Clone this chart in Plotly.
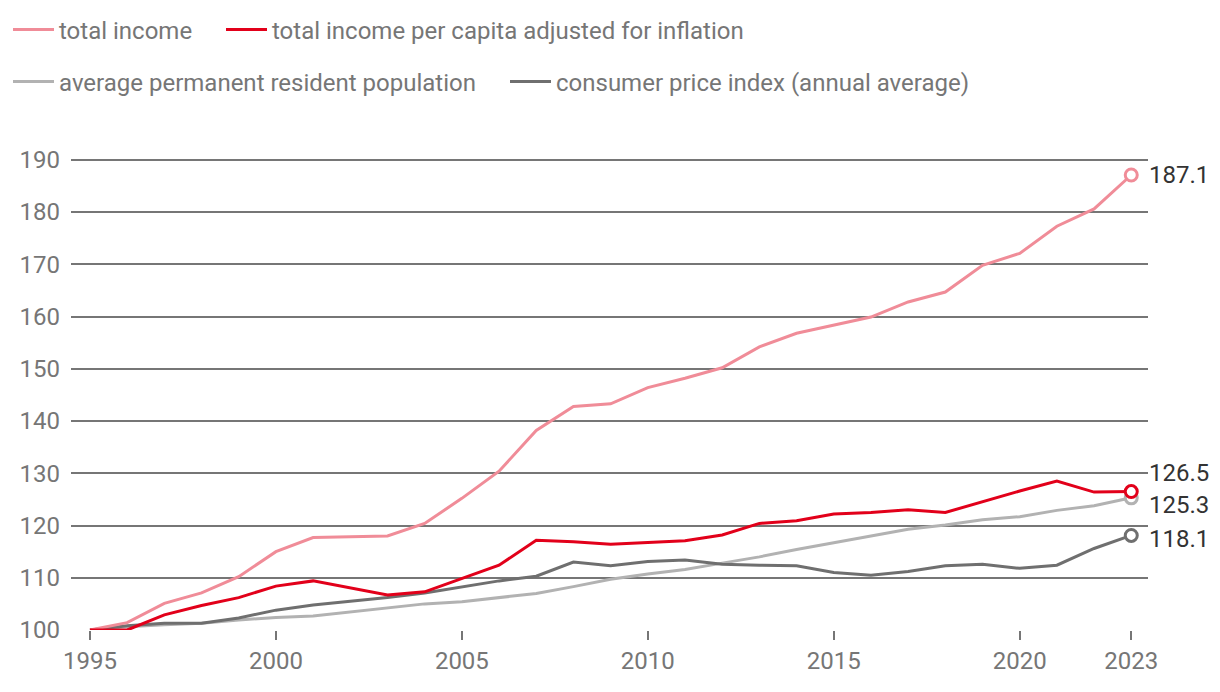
import plotly.graph_objects as go

years = list(range(1995, 2024))

total_income = [100.0, 101.4, 105.1, 107.1, 110.2, 115.0, 117.7, 117.9, 118.0, 120.4,
                125.2, 130.4, 138.2, 142.8, 143.3, 146.4, 148.2, 150.2, 154.2, 156.8,
                158.3, 159.9, 162.8, 164.7, 169.8, 172.1, 177.3, 180.6, 187.1]

income_pc_real = [100.0, 100.0, 102.9, 104.7, 106.2, 108.4, 109.4, 108.1, 106.7, 107.3,
                  109.8, 112.4, 117.2, 116.9, 116.4, 116.8, 117.1, 118.2, 120.4, 120.9,
                  122.2, 122.5, 123.0, 122.5, 124.6, 126.6, 128.5, 126.4, 126.5]

population = [100.0, 100.6, 101.0, 101.3, 101.9, 102.4, 102.7, 103.5, 104.3, 105.0,
              105.4, 106.2, 107.0, 108.3, 109.7, 110.7, 111.6, 112.8, 114.0, 115.4,
              116.7, 118.0, 119.3, 120.1, 121.1, 121.7, 122.9, 123.8, 125.3]

cpi = [100.0, 100.8, 101.3, 101.3, 102.3, 103.8, 104.8, 105.5, 106.2, 107.1,
       108.2, 109.4, 110.3, 113.0, 112.3, 113.1, 113.4, 112.6, 112.4, 112.3,
       111.0, 110.5, 111.2, 112.3, 112.6, 111.8, 112.4, 115.6, 118.1]

names = ["total income",
         "total income per capita adjusted for inflation",
         "average permanent resident population",
         "consumer price index (annual average)"]
colors = ["#f08c98", "#e2001a", "#b2b2b2", "#6f6f6f"]
series = [total_income, income_pc_real, population, cpi]
legend_ids = ["legend", "legend2", "legend3", "legend4"]
label_yshift = [0, 19, -7, -4]

x_ticks = [1995, 2000, 2005, 2010, 2015, 2020, 2023]
y_ticks = list(range(100, 200, 10))

GRAY = "#767676"
FONT = "Roboto"
W, H = 1212, 684  # page body adds an 8px margin

fig = go.Figure()
draw_order = [2, 3, 0, 1]
for i in draw_order:
    fig.add_trace(go.Scatter(
        x=years, y=series[i], mode="lines", name=names[i],
        line=dict(color=colors[i], width=3),
        legend=legend_ids[i],
    ))
for i in draw_order:
    fig.add_trace(go.Scatter(
        x=[years[-1]], y=[series[i][-1]], mode="markers", showlegend=False,
        marker=dict(size=12, color="white", line=dict(color=colors[i], width=3)),
        cliponaxis=False,
    ))
for i in range(4):
    fig.add_annotation(
        x=years[-1], y=series[i][-1], text=f"{series[i][-1]:.1f}",
        showarrow=False, xanchor="left", yanchor="middle",
        xshift=16, yshift=label_yshift[i],
        font=dict(family=FONT, size=24, color="#333333"),
    )

# legend positions (pixels within the figure): x of box, y of row centre
legend_pos = [(0, 22), (213, 22), (0, 74), (497, 74)]
legend_layout = {}
for lid, (px, py) in zip(legend_ids, legend_pos):
    legend_layout[lid] = dict(
        orientation="h", xref="container", yref="container",
        x=px / W, y=1 - py / H, xanchor="left", yanchor="middle",
        font=dict(family=FONT, size=24, color=GRAY),
        bgcolor="rgba(0,0,0,0)", itemwidth=41,
    )

fig.update_layout(
    width=W, height=H,
    margin=dict(l=54, r=72, t=144, b=62),
    plot_bgcolor="white", paper_bgcolor="white",
    font=dict(family=FONT, color=GRAY),
    **legend_layout,
    xaxis=dict(range=[1994.49, 2023.45], tickvals=x_ticks, ticktext=[str(v) for v in x_ticks],
               showgrid=False, zeroline=False, showline=False,
               ticks="outside", ticklen=9, tickwidth=1.5, tickcolor=GRAY,
               tickfont=dict(family=FONT, size=24, color=GRAY)),
    yaxis=dict(range=[100, 191.5], tickvals=y_ticks, ticktext=[str(v) for v in y_ticks],
               showgrid=True, gridcolor=GRAY, gridwidth=1.5, zeroline=False,
               showline=False, ticks="", ticklabelstandoff=10,
               tickfont=dict(family=FONT, size=24, color=GRAY)),
)

fig.write_html("out.html")
